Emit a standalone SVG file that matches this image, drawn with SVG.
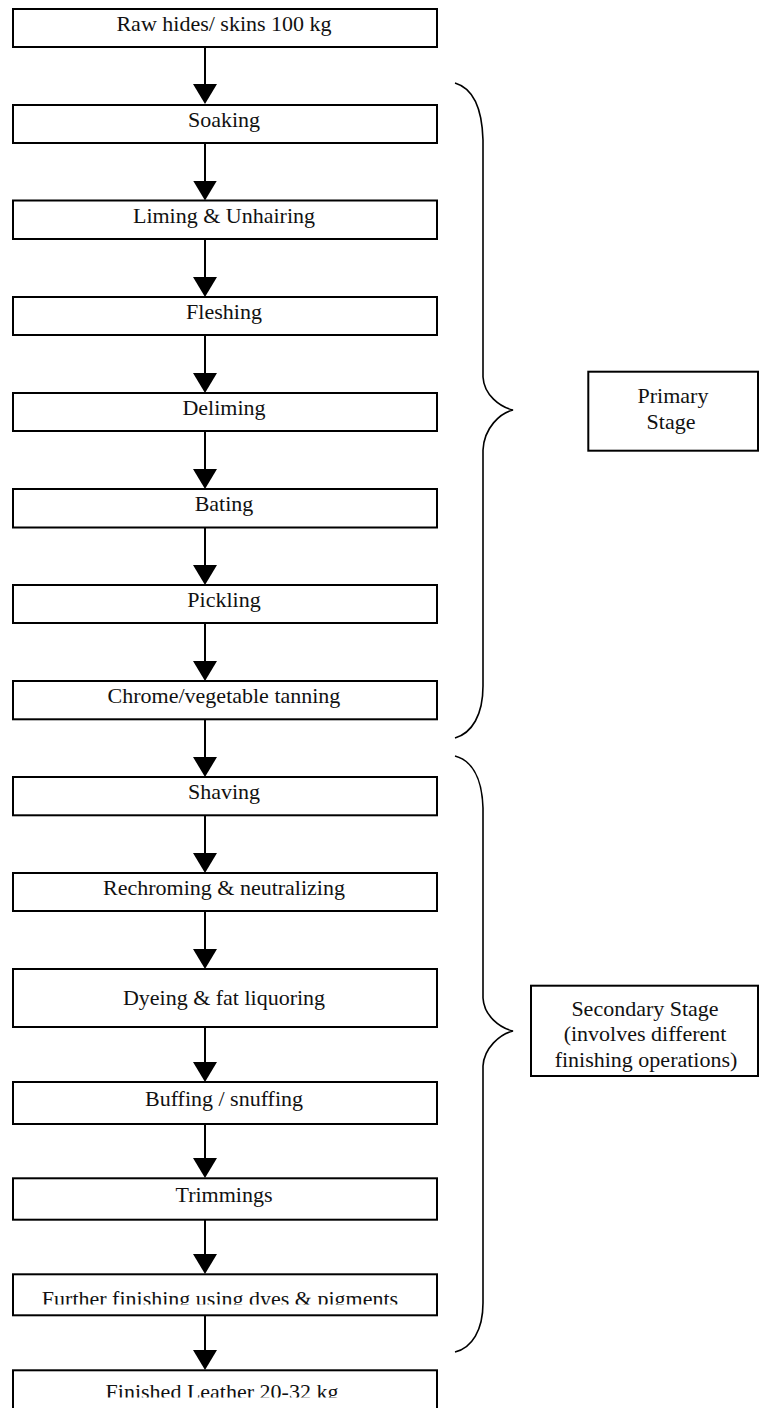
<svg xmlns="http://www.w3.org/2000/svg" width="759" height="1408" viewBox="0 0 759 1408">
<style>
.box{fill:#fff;stroke:#000;stroke-width:2}
.t{font-family:"Liberation Serif","Times New Roman",serif;font-size:22px;fill:#111;text-anchor:middle}
.c{stroke:#000;stroke-width:2;fill:none;marker-end:url(#ah)}
.br{stroke:#000;stroke-width:1.6;fill:none}
</style>
<defs>
<marker id="ah" viewBox="0 0 20 24" refX="18" refY="12" markerWidth="20" markerHeight="24" markerUnits="userSpaceOnUse" orient="auto">
<path d="M0,0 L20,12 L0,24 Z" fill="#000"/>
</marker>
<clipPath id="clipF"><rect x="14" y="1275" width="422" height="29.5"/></clipPath>
<clipPath id="clipL"><rect x="14" y="1371" width="422" height="26.5"/></clipPath>
</defs>
<rect width="759" height="1408" fill="#fff"/>
<g id="connectors">
<line class="c" x1="205" y1="46" x2="205" y2="102"/>
<line class="c" x1="205" y1="142" x2="205" y2="198.5"/>
<line class="c" x1="205" y1="238.5" x2="205" y2="295"/>
<line class="c" x1="205" y1="334" x2="205" y2="391"/>
<line class="c" x1="205" y1="430" x2="205" y2="487"/>
<line class="c" x1="205" y1="527" x2="205" y2="583"/>
<line class="c" x1="205" y1="622" x2="205" y2="679"/>
<line class="c" x1="205" y1="718" x2="205" y2="775"/>
<line class="c" x1="205" y1="814" x2="205" y2="871"/>
<line class="c" x1="205" y1="910" x2="205" y2="967"/>
<line class="c" x1="205" y1="1026" x2="205" y2="1080"/>
<line class="c" x1="205" y1="1123" x2="205" y2="1176"/>
<line class="c" x1="205" y1="1219" x2="205" y2="1272"/>
<line class="c" x1="205" y1="1315" x2="205" y2="1368"/>
</g>
<g id="n1"><rect class="box" x="13" y="9" width="424" height="38"/><text class="t" x="224" y="31">Raw hides/ skins 100 kg</text></g>
<g id="n2"><rect class="box" x="13" y="105" width="424" height="38"/><text class="t" x="224" y="127">Soaking</text></g>
<g id="n3"><rect class="box" x="13" y="200.5" width="424" height="38.5"/><text class="t" x="224" y="222.5">Liming &amp; Unhairing</text></g>
<g id="n4"><rect class="box" x="13" y="297" width="424" height="38"/><text class="t" x="224" y="318.5">Fleshing</text></g>
<g id="n5"><rect class="box" x="13" y="393" width="424" height="38"/><text class="t" x="224" y="414.5">Deliming</text></g>
<g id="n6"><rect class="box" x="13" y="489" width="424" height="38.5"/><text class="t" x="224" y="510.5">Bating</text></g>
<g id="n7"><rect class="box" x="13" y="585" width="424" height="38"/><text class="t" x="224" y="606.5">Pickling</text></g>
<g id="n8"><rect class="box" x="13" y="681" width="424" height="38.3"/><text class="t" x="224" y="702.5">Chrome/vegetable tanning</text></g>
<g id="n9"><rect class="box" x="13" y="777" width="424" height="38.3"/><text class="t" x="224" y="798.5">Shaving</text></g>
<g id="n10"><rect class="box" x="13" y="873" width="424" height="38"/><text class="t" x="224" y="894.5">Rechroming &amp; neutralizing</text></g>
<g id="n11"><rect class="box" x="13" y="969" width="424" height="58"/><text class="t" x="224" y="1005">Dyeing &amp; fat liquoring</text></g>
<g id="n12"><rect class="box" x="13" y="1082" width="424" height="42"/><text class="t" x="224" y="1106">Buffing / snuffing</text></g>
<g id="n13"><rect class="box" x="13" y="1178.3" width="424" height="41.4"/><text class="t" x="224" y="1201.5">Trimmings</text></g>
<g id="n14"><rect class="box" x="13" y="1274.3" width="424" height="41"/><text class="t" x="220" y="1306" clip-path="url(#clipF)">Further finishing using dyes &amp; pigments</text></g>
<g id="n15"><rect class="box" x="13" y="1370.3" width="424" height="50"/><text class="t" x="222" y="1399" clip-path="url(#clipL)">Finished Leather 20-32 kg</text></g>
<g id="brace-primary"><path class="br" d="M455,83 C472,88 482,105 483,140 L483,377 C484,395 500,407 513,410 C500,413 484,428 483,450 L483,686 C483,715 472,733 455,738"/></g>
<g id="brace-secondary"><path class="br" d="M455,756 C470,760 482,775 483,808 L483,998 C484,1016 500,1028 513,1031 C500,1034 484,1048 483,1066 L483,1303 C483,1330 472,1348 455,1352"/></g>
<g id="primary-stage"><rect class="box" x="588.3" y="371.7" width="169.7" height="79"/><text class="t" x="673" y="403">Primary</text><text class="t" x="671" y="429.3">Stage</text></g>
<g id="secondary-stage"><rect class="box" x="531" y="985.7" width="227" height="90.3"/><text class="t" x="645" y="1015.5">Secondary Stage</text><text class="t" x="645" y="1041">(involves different</text><text class="t" x="646" y="1066.5">finishing operations)</text></g>
</svg>
